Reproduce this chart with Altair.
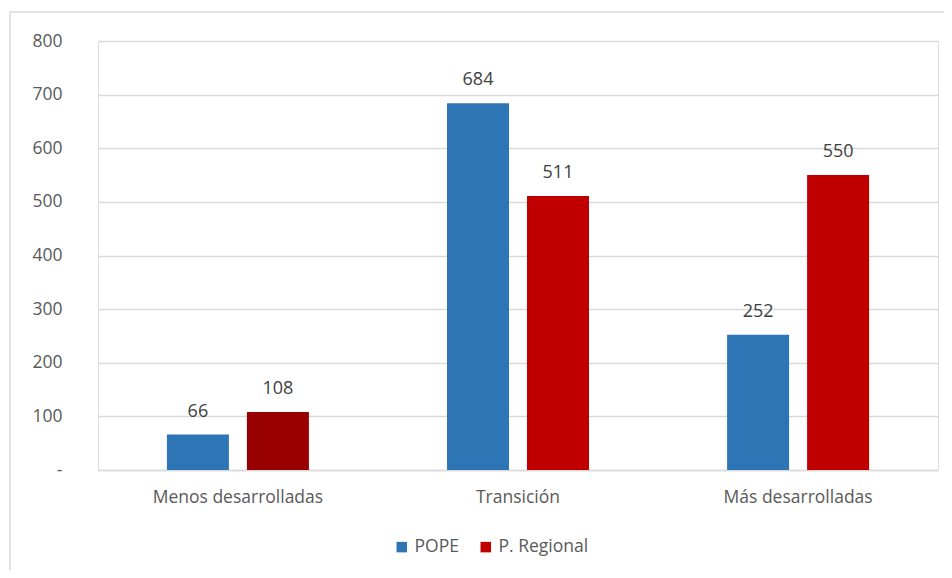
import altair as alt
import pandas as pd

categories = ["Menos desarrolladas", "Transición", "Más desarrolladas"]
series = ["POPE", "P. Regional"]
pope = [66, 684, 252]
regional = [108, 511, 550]
dark_flag = [[False, False, False], [True, False, False]]

rows = []
for si, (s, vals) in enumerate(zip(series, [pope, regional])):
    for ci, c in enumerate(categories):
        rows.append({"cat": c, "series": s, "value": vals[ci], "dark": dark_flag[si][ci]})
df = pd.DataFrame(rows)

font = "Open Sans"
fs = 17.5
x = alt.X("cat:N", sort=categories, title=None,
          scale=alt.Scale(paddingInner=0.493, paddingOuter=0.246),
          axis=alt.Axis(labelAngle=0, labelFont=font, labelFontSize=fs, labelColor="#595959",
                        labelPadding=18, ticks=False, domainColor="#d9d9d9", domainWidth=1.5))
xo = alt.XOffset("series:N", sort=series, scale=alt.Scale(paddingInner=0.225, paddingOuter=0))
y = alt.Y("value:Q", title=None,
          scale=alt.Scale(domain=[0, 800]),
          axis=alt.Axis(values=[0, 100, 200, 300, 400, 500, 600, 700, 800],
                        labelExpr="datum.value == 0 ? '-' : datum.label",
                        labelFont=font, labelFontSize=fs, labelColor="#595959",
                        labelPadding=36, ticks=False, domain=False,
                        gridColor="#d9d9d9", gridWidth=1.5))

bars = alt.Chart(df).mark_bar().encode(
    x=x, xOffset=xo, y=y,
    color=alt.condition("datum.dark", alt.value("#990000"),
                        alt.Color("series:N", sort=series, title=None,
                                  scale=alt.Scale(domain=series, range=["#2E75B6", "#C00000"]),
                                  legend=alt.Legend(orient="none", legendX=295, legendY=497,
                                                    direction="horizontal", symbolType="square",
                                                    symbolSize=110, symbolStrokeWidth=0,
                                                    labelFont=font, labelFontSize=fs,
                                                    labelColor="#595959", columnPadding=18,
                                                    labelOffset=4))),
)

labels = alt.Chart(df).mark_text(dy=-23, font=font, fontSize=18, color="#404040").encode(
    x=alt.X("cat:N", sort=categories), xOffset=alt.XOffset("series:N", sort=series),
    y="value:Q", text="value:Q")

one = pd.DataFrame({"a": [0]})
top_border = alt.Chart(one).mark_rule(color="#d9d9d9", strokeWidth=1.5).encode(
    x=alt.value(-88), x2=alt.value(846), y=alt.value(-29))
left_border = alt.Chart(one).mark_rule(color="#d9d9d9", strokeWidth=1.5).encode(
    x=alt.value(-88), y=alt.value(-29), y2=alt.value(529))

chart = alt.layer(top_border, left_border, bars, labels).properties(
    width=840, height=429,
    autosize=alt.AutoSizeParams(type="none"),
    padding={"left": 90, "top": 33, "right": 6, "bottom": 100},
).configure_view(stroke=None).configure(background="white")

chart.save("out.html", embed_options={"renderer": "svg", "actions": False})
